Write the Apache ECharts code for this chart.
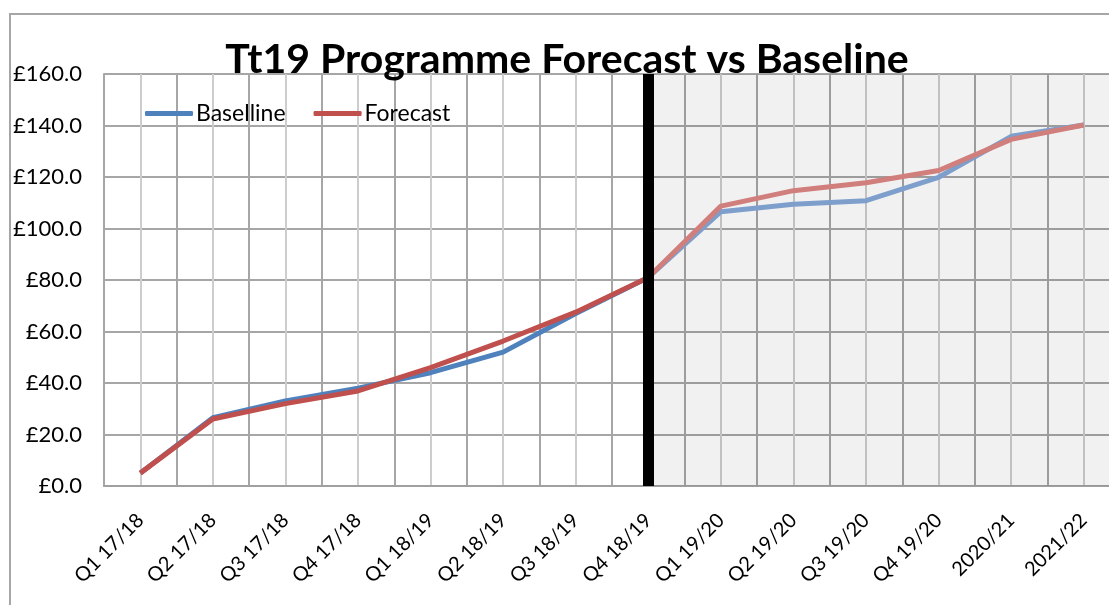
<!DOCTYPE html>
<html>
<head>
<meta charset="utf-8">
<script src="https://cdn.jsdelivr.net/npm/echarts@6/dist/echarts.min.js"></script>
<style>
  html, body { margin: 0; padding: 0; background: #fff; }
  #frame { position: absolute; left: 9px; top: 13px; width: 1100px; height: 592px;
           border-left: 2px solid #a6a6a6; border-top: 2px solid #a6a6a6; box-sizing: border-box; }
  #myChart { width: 1109px; height: 605px; }
</style>
</head>
<body>
<div id="frame"></div>
<div id="myChart"></div>
<script>
  var quarters = ['Q1 17/18', 'Q2 17/18', 'Q3 17/18', 'Q4 17/18', 'Q1 18/19', 'Q2 18/19', 'Q3 18/19',
    'Q4 18/19', 'Q1 19/20', 'Q2 19/20', 'Q3 19/20', 'Q4 19/20', '2020/21', '2021/22'];
  var baseline = [5, 26.5, 33, 38, 44, 52, 67, 81, 106.5, 109.4, 110.8, 119.9, 135.8, 140.2];
  var forecast = [5, 26, 32, 36.9, 46, 56.3, 67.5, 81, 108.7, 114.7, 117.8, 122.5, 134.6, 140.2];
  var cutIndex = 7; // Q4 18/19 - actuals up to here, shaded after

  // split each series at the cut so the later part can be drawn paler
  function upTo(arr) { return arr.map(function (v, i) { return i <= cutIndex ? v : '-'; }); }
  function after(arr) { return arr.map(function (v, i) { return i >= cutIndex ? v : '-'; }); }

  var font = 'Lato';
  var myChart = echarts.init(document.getElementById('myChart'));

  myChart.setOption({
    animation: false,
    title: {
      text: 'Tt19 Programme Forecast vs Baseline',
      left: 562,
      textAlign: 'center',
      top: 34,
      textStyle: { fontFamily: font, fontWeight: 'bold', fontSize: 41, color: '#000' }
    },
    legend: {
      left: 140,
      top: 97,
      itemWidth: 48,
      itemHeight: 5,
      itemGap: 28,
      icon: 'roundRect',
      textStyle: { fontFamily: font, fontSize: 23, color: '#000', padding: [0, 0, 0, -2] },
      data: ['Baselline', 'Forecast']
    },
    // plot runs past the right edge of the picture, as in the cropped original
    grid: { left: 104, top: 74, width: 1016, height: 412, outerBoundsMode: 'none' },
    xAxis: [
      {
        type: 'category',
        data: quarters,
        boundaryGap: true,
        axisLine: { lineStyle: { color: '#a0a0a0', width: 2 } },
        axisTick: { show: false },
        splitLine: { show: false },
        axisLabel: { rotate: 45, fontFamily: font, fontSize: 20, color: '#000', margin: 31 }
      },
      {
        type: 'value',
        min: 0,
        max: quarters.length,
        interval: 1,
        position: 'bottom',
        axisLine: { show: false },
        axisTick: { show: false },
        axisLabel: { show: false },
        splitLine: { show: true, lineStyle: { color: '#a6a6a6', width: 2 } },
        minorTick: { show: false, splitNumber: 2 },
        minorSplitLine: { show: true, lineStyle: { color: '#cdcdcd', width: 2 } }
      }
    ],
    yAxis: {
      type: 'value',
      min: 0,
      max: 160,
      interval: 20,
      axisLine: { show: true, lineStyle: { color: '#a6a6a6', width: 2 } },
      axisTick: { show: false },
      splitLine: { lineStyle: { color: '#a6a6a6', width: 2 } },
      axisLabel: {
        fontFamily: font, fontSize: 22, color: '#000', margin: 22,
        formatter: function (v) { return '£' + v.toFixed(1); }
      }
    },
    series: [
      {
        name: 'Baselline',
        type: 'line',
        data: upTo(baseline),
        symbol: 'none',
        color: '#4f81bd',
        lineStyle: { width: 5 },
        z: 3
      },
      {
        name: 'Forecast',
        type: 'line',
        data: upTo(forecast),
        symbol: 'none',
        color: '#c0504d',
        lineStyle: { width: 5 },
        z: 4,
        markLine: {
          silent: true,
          symbol: 'none',
          label: { show: false },
          lineStyle: { color: '#000', width: 11, type: 'solid' },
          data: [{ xAxis: quarters[cutIndex] }]
        }
      },
      {
        name: 'Baselline',
        type: 'line',
        data: after(baseline),
        symbol: 'none',
        color: '#7e9fcc',
        lineStyle: { width: 5 },
        z: 3
      },
      {
        name: 'Forecast',
        type: 'line',
        data: after(forecast),
        symbol: 'none',
        color: '#d07f7d',
        lineStyle: { width: 5 },
        z: 4
      },
      {
        // shaded forecast period
        type: 'line',
        xAxisIndex: 1,
        data: [],
        silent: true,
        markArea: {
          silent: true,
          itemStyle: { color: 'rgba(0,0,0,0.055)' },
          data: [[{ xAxis: cutIndex + 0.5 }, { xAxis: quarters.length }]]
        }
      }
    ]
  });
</script>
</body>
</html>
